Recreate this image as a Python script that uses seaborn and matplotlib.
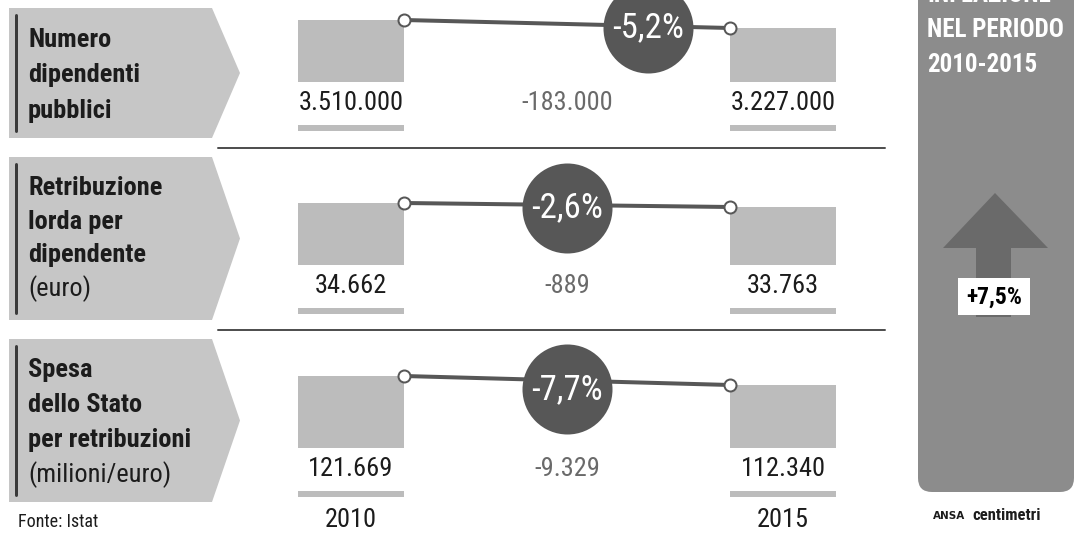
import matplotlib
matplotlib.use("Agg")
import matplotlib.pyplot as plt
import matplotlib.patches as mpatches
from matplotlib import font_manager, transforms
import numpy as np
import pandas as pd
import seaborn as sns

# ---------------- data ----------------
years = ["2010", "2015"]
indicator_lines = [
    ["Numero", "dipendenti", "pubblici"],
    ["Retribuzione", "lorda per", "dipendente", "(euro)"],
    ["Spesa", "dello Stato", "per retribuzioni", "(milioni/euro)"],
]
values_2010 = [3510000, 34662, 121669]
values_2015 = [3227000, 33763, 112340]
labels_2010 = ["3.510.000", "34.662", "121.669"]
labels_2015 = ["3.227.000", "33.763", "112.340"]
diff_labels = ["-183.000", "-889", "-9.329"]
pct_labels = ["-5,2%", "-2,6%", "-7,7%"]
panel_title = ["INFLAZIONE", "NEL PERIODO", "2010-2015"]
inflation_label = "+7,5%"
source_label = "Fonte: Istat"

# ---------------- style ----------------
sns.set_style("white")
avail = {f.name for f in font_manager.fontManager.ttflist}
COND = next((f for f in ["Liberation Sans Narrow", "Roboto Condensed", "Open Sans Condensed", "Roboto", "DejaVu Sans"]
             if f in avail), "DejaVu Sans")
plt.rcParams["font.family"] = [COND, "DejaVu Sans"]

W, H, DPI = 1082, 534, 100
PT = 72 / DPI
BAR = "#bcbcbc"
SHAPE = "#c6c6c6"
DARK = "#575757"
TXT = "#1c1c1c"

fig = plt.figure(figsize=(W / DPI, H / DPI), dpi=DPI)
fig.patch.set_facecolor("white")
bg = fig.add_axes([0, 0, 1, 1])
bg.set_xlim(0, W)
bg.set_ylim(H, 0)
bg.axis("off")

# layout (pixels)
bar_bottom = [82, 265, 448]
arrow_span = [(8, 138), (157, 320), (339, 502)]
text_base = [[47, 82, 118], [195, 229, 262, 296], [377, 412, 447, 482]]
row_ylim = [(1.317e6, 4.854e6), (20730, 43200), (47030, 150690)]
circle_x = [0.6875, 0.5, 0.5]
circle_off = [2, 3, 9]
ax_left, ax_right, ax_h = 298, 836, 100
bw = 106 / 432
xlim = (-53 / 432, 1 + 53 / 432)

for i in range(3):
    bb = bar_bottom[i]
    t, b = arrow_span[i]
    # left chevron shape
    bg.add_patch(mpatches.Polygon([(9, t), (212, t), (240, (t + b) / 2), (212, b), (9, b)],
                                  closed=True, facecolor=SHAPE, edgecolor="none", zorder=1))
    bg.plot([15.5, 15.5], [t + 7, b - 7], color="#3a3a3a", lw=3 * PT, zorder=2)
    for j, line in enumerate(indicator_lines[i]):
        bold = not line.startswith("(")
        bg.text(28, text_base[i][j], line, fontsize=19, va="baseline", ha="left",
                fontweight="bold" if bold else "normal", color=TXT, zorder=3)

    # underline bars
    for cx in (351, 783):
        bg.add_patch(mpatches.Rectangle((cx - 53, bb + 43), 106, 6, facecolor=BAR,
                                        edgecolor="none", zorder=1))

    ax = fig.add_axes([ax_left / W, 1 - bb / H, (ax_right - ax_left) / W, ax_h / H])
    ax.set_facecolor("none")
    v1, v2 = values_2010[i], values_2015[i]
    df = pd.DataFrame({"year": years, "value": [v1, v2]})
    sns.barplot(data=df, x="year", y="value", color=BAR, saturation=1, width=bw,
                linewidth=0, ax=ax, zorder=1)
    lx = [bw / 2, 1 - bw / 2]
    sns.lineplot(x=lx, y=[v1, v2], ax=ax, color=DARK, linewidth=4 * PT, marker="o",
                 markersize=12 * PT, markerfacecolor="white", markeredgecolor=DARK,
                 markeredgewidth=2 * PT, zorder=3, clip_on=False)
    ax.set_xlim(*xlim)
    ax.set_ylim(*row_ylim[i])
    for s in ax.spines.values():
        s.set_visible(False)
    ax.set_xticks([])
    ax.set_yticks([])
    ax.set_xlabel("")
    ax.set_ylabel("")

    xc = circle_x[i]
    yc = np.interp(xc, lx, [v1, v2])
    tr = transforms.offset_copy(ax.transData, fig=fig, x=0, y=-circle_off[i] * PT, units="points")
    ax.scatter([xc], [yc], s=(90 * PT) ** 2, color=DARK, linewidths=0, zorder=4,
               transform=tr, clip_on=False)
    ax.text(xc, yc, pct_labels[i], transform=tr, ha="center", va="center", color="white",
            fontsize=25, zorder=5, clip_on=False)

    y0 = row_ylim[i][0]
    for xv, lab, col in ((0, labels_2010[i], TXT), (0.5, diff_labels[i], "#6a6a6a"),
                         (1, labels_2015[i], TXT)):
        ax.annotate(lab, xy=(xv, y0), xytext=(0, -21 * PT), textcoords="offset points",
                    ha="center", va="center", fontsize=19, color=col, annotation_clip=False)
    if i == 2:
        for xv, yr in zip((0, 1), years):
            ax.annotate(yr, xy=(xv, y0), xytext=(0, -72 * PT), textcoords="offset points",
                        ha="center", va="center", fontsize=19, color=TXT, annotation_clip=False)

# separators
for y in (148, 330):
    bg.plot([218, 885], [y, y], color="#505050", lw=2 * PT, zorder=2)

# right panel
bg.add_patch(mpatches.FancyBboxPatch((918, -40), 156, 532,
                                     boxstyle="round,pad=0,rounding_size=14",
                                     facecolor="#8c8c8c", edgecolor="none", zorder=1))
for yb, line in zip((2, 37, 72), panel_title):
    bg.text(927, yb, line, fontsize=18, fontweight="bold", color="white", va="baseline",
            ha="left", zorder=3)
bg.add_patch(mpatches.Polygon([(943, 248), (995, 193), (1048, 248), (1011, 248), (1011, 317),
                               (976, 317), (976, 248)], closed=True, facecolor="#6a6a6a",
                              edgecolor="none", zorder=2))
bg.add_patch(mpatches.Rectangle((958, 278), 72, 37, facecolor="white", edgecolor="none", zorder=3))
bg.text(994, 297, inflation_label, fontsize=17, fontweight="bold", color="black",
        ha="center", va="center", zorder=4)

bg.text(18, 527, source_label, fontsize=13, color=TXT, va="baseline", ha="left")
bg.text(933, 516, "ANSA", fontsize=7.5, fontweight="bold", family="DejaVu Sans",
        color=TXT, va="center", ha="left")
bg.text(972, 516, "centimetri", fontsize=12, fontweight="bold", color=TXT,
        va="center", ha="left")

fig.savefig("out.png", dpi=DPI, facecolor="white")
